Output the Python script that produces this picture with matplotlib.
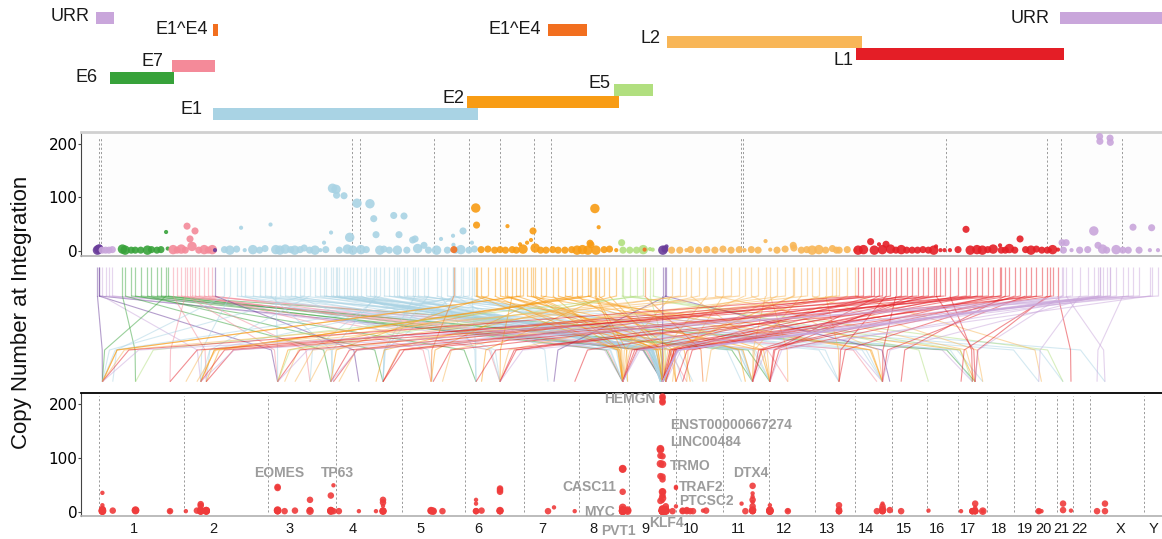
import numpy as np
import matplotlib
matplotlib.use("Agg")
import matplotlib.pyplot as plt
from matplotlib.collections import LineCollection

plt.rcParams['font.family'] = ['Liberation Sans', 'DejaVu Sans']

# ---------------- HPV16 genome annotation (bp) ----------------
gene_names = ['URR', 'E6', 'E7', 'E1^E4', 'E1', 'E2', 'E1^E4', 'E5', 'L2', 'L1', 'URR']
gene_starts = [0, 103, 559, 864, 864, 2745, 3345, 3837, 4225, 5625, 7135]
gene_ends = [132, 575, 881, 904, 2830, 3870, 3634, 4121, 5669, 7164, 7906]

# recurrent HPV breakpoints (dashed guides)
hotspot_bp = [18, 33, 1896, 1956, 2499, 2759, 2988, 3240, 3370, 4777, 4790,
              6288, 7036, 7140, 7594]

# ---------------- human genome (hg38, Mb) ----------------
chrom_names = [str(i) for i in range(1, 23)] + ['X', 'Y']
chrom_len_mb = [248.96, 242.19, 198.30, 190.21, 181.54, 170.81, 159.35, 145.14,
                138.39, 133.80, 135.09, 133.28, 114.36, 107.04, 101.99, 90.34,
                83.26, 80.37, 58.62, 64.44, 46.71, 50.82, 156.04, 57.23]
chrom_label_mb = [101.7, 83, 62.5, 46, 52, 40.8, 53, 41.6, 47.5, 43, 46.3, 43.2,
                  34, 32.6, 36, 31, 29, 37, 31.6, 27, 14.5, 17.8, 86, 27]

# ---------------- integration events ----------------
hpv_bp = [
    10, 20, 25, 45, 70, 95, 120,
    195, 215, 260, 290, 330, 380, 410, 450, 480, 518, 530,
    570, 600, 630, 660, 673, 695, 710, 732, 760, 800, 830, 860, 880,
    950, 990, 1040, 1073, 1100, 1160, 1210, 1250, 1291, 1330,
    1360, 1400, 1440, 1470, 1510, 1540, 1580, 1620, 1660, 1687,
    1700, 1739, 1750, 1776, 1780, 1800, 1835, 1860, 1877, 1900,
    1931, 1960, 2000, 2027, 2055, 2072, 2100, 2130, 2170, 2203,
    2230, 2242, 2279, 2300, 2343, 2361, 2380, 2427, 2460, 2520,
    2553, 2600, 2642, 2645, 2660, 2700, 2716, 2760, 2782, 2800,
    2648,
    2810, 2816, 2850, 2900, 2950, 2990, 3030, 3045, 3080, 3110, 3138, 3160,
    3190, 3219, 3234, 3250, 3290, 3330, 3380, 3420, 3470, 3520, 3560, 3600,
    3640, 3656, 3663, 3692, 3700, 3720, 3760, 3800, 3850,
    3890, 3900, 3950, 4000, 4050, 4060, 4100, 4120,
    4195, 4210, 4222,
    4260, 4320, 4370, 4400, 4460, 4520, 4580, 4640, 4700, 4760,
    4800, 4850, 4900, 4955, 4990, 5040, 5100, 5160, 5165, 5220,
    5260, 5300, 5350, 5400, 5450, 5480, 5500, 5560, 5620,
    5640, 5680, 5733, 5760, 5795, 5820, 5847, 5880, 5920, 5960,
    6000, 6040, 6080, 6120, 6160, 6200, 6217, 6250, 6280, 6320,
    6380, 6439, 6470, 6520, 6560, 6600, 6640, 6691, 6700, 6730,
    6760, 6800, 6839, 6880, 6920, 6960, 7000, 7040, 7060, 7080, 7120,
    7150, 7160, 7180, 7220, 7280, 7340, 7385, 7416, 7428, 7430,
    7450, 7480, 7505, 7507, 7550, 7600, 7640, 7675, 7720, 7800, 7813, 7860,
]
hpv_region = (['other'] * 3 + ['URR'] * 4 + ['E6'] * 11 + ['E7'] * 12 + ['other']
              + ['E1'] * 60 + ['E1^E4'] + ['E2'] * 33 + ['E5'] * 5 + ['E1^E4']
              + ['E5'] * 2 + ['other'] * 3 + ['L2'] * 29 + ['L1'] * 41 + ['URR'] * 22)
human_chrom = [
    1, 3, 9, 2, 8, 17, 14,
    1, 3, 9, 6, 12, 4, 8, 11, 17, 1, 9,
    2, 10, 9, 1, 3, 3, 8, 6, 14, 5, 12, 9, 4,
    1, 2, 9, 6, 17, 8, 10, 13, 3, 3,
    8, 12, 9, 5, 14, 1, 2, 9, 20, 11,
    11, 11, 9, 9, 9, 17, 9, 8, 9, 12,
    9, 6, 9, 9, 9, 3, 3, 21, 10, 9,
    9, 9, 9, 'X', 9, 4, 14, 11, 4, 8,
    6, 13, 11, 4, 7, 2, 9, 1, 6, 9,
    5,
    8, 11, 9, 3, 8, 12, 9, 9, 6, 10, 1, 1,
    14, 9, 8, 9, 17, 5, 8, 11, 14, 3, 9, 2,
    12, 2, 2, 8, 8, 9, 6, 9, 4,
    21, 9, 17, 3, 1, 10, 9, 16,
    9, 14, 7,
    8, 3, 2, 12, 5, 9, 17, 10, 1, 2,
    8, 14, 6, 11, 12, 9, 3, 9, 9, 11,
    3, 17, 9, 13, 8, 4, 4, 10, 20,
    1, 3, 4, 9, 12, 2, 13, 8, 14, 9,
    6, 12, 3, 11, 5, 9, 17, 7, 1, 17,
    10, 6, 8, 9, 2, 4, 11, 9, 3, 15,
    9, 13, 11, 14, 8, 12, 6, 17, 17, 9, 21,
    17, 8, 'X', 9, 20, 3, 9, 14, 9, 9,
    9, 12, 9, 9, 8, 'X', 9, 3, 1, 11, 6, 2,
]
human_mb = [
    11, 27.7, 98, 47, 127.7, 42, 80.8,
    107, 182, 98, 32.8, 2, 134.9, 127.7, 87, 50, 11, 107.5,
    63, 30, 98, 207, 27.7, 121.6, 127.7, 102.3, 64.5, 84, 54, 98, 65,
    41, 47, 98, 102.3, 72, 127.7, 48, 69, 189.6, 27.7,
    127.7, 2, 107.5, 90, 80.8, 11, 63, 98, 12, 55,
    87, 87, 92, 92, 92, 42, 98, 142, 98, 2,
    92, 102.3, 107.5, 98, 98, 182, 121.6, 18, 18, 92,
    98, 98, 98, 42, 92, 134.9, 80.8, 87, 134.9, 127.7,
    32.8, 69, 87, 134.9, 70.6, 47, 98, 11, 32.8, 98,
    84,
    127.7, 87, 98, 182, 127.7, 2, 107.5, 137, 102.3, 40, 11, 11,
    80.8, 98, 127.7, 98, 50, 84, 127.7, 66, 80.8, 27.7, 107.5, 63,
    2, 47, 47, 127.7, 142, 137, 48.8, 98, 114.5,
    18, 98, 42, 27.7, 107, 77, 107.5, 5,
    98, 102, 88,
    127.7, 48, 4, 2, 117, 98, 50, 30, 11, 36,
    127.7, 80.8, 102.3, 87, 54, 127, 121.6, 107.5, 107.5, 87,
    78, 72, 98, 69, 127.7, 7, 134.9, 86, 20,
    11, 182, 134.9, 98, 2, 47, 69, 127.7, 80.8, 107.5,
    102.3, 2, 27.7, 87, 90, 98, 50, 148, 207, 42,
    18, 102.3, 127.7, 107.5, 63, 134.9, 87, 137, 189.6, 27.7,
    98, 69, 87, 80.8, 127.7, 2, 32.8, 50, 9, 98, 41,
    50, 127.7, 42, 98, 12, 182, 98, 80.8, 98, 98,
    107.5, 2, 98, 98, 127.7, 19, 98, 27.7, 11, 87, 102.3, 47,
]
copy_number = [
    1, 3, 5, 1, 1, 1, 2,
    3, 1, 1, 1, 1, 1, 2, 1, 2, 35, 4,
    2, 1, 3, 1, 46, 22, 8, 37, 1, 2, 1, 2, 1,
    2, 1, 3, 43, 1, 2, 1, 4, 49, 2,
    1, 3, 2, 1, 2, 5, 1, 1, 1, 15,
    2, 34, 117, 115, 104, 1, 103, 3, 25, 1,
    89, 2, 2, 88, 60, 30, 1, 3, 1, 66,
    1, 30, 65, 1, 20, 22, 4, 10, 1, 1,
    22, 1, 28, 11, 1, 2, 37, 1, 15, 3,
    2,
    80, 48, 2, 3, 1, 2, 1, 46, 2, 1, 12, 3,
    15, 20, 37, 5, 1, 1, 2, 1, 1, 2, 1, 2,
    1, 14, 11, 79, 1, 44, 2, 3, 1,
    15, 1, 1, 1, 2, 2, 3, 2,
    1, 3, 8,
    1, 1, 1, 2, 1, 2, 1, 3, 1, 2,
    1, 2, 1, 18, 2, 1, 3, 10, 5, 1,
    2, 1, 2, 1, 4, 1, 1, 2, 1,
    1, 2, 17, 1, 12, 2, 12, 3, 1, 2,
    1, 1, 1, 2, 1, 1, 8, 1, 1, 1,
    2, 40, 1, 2, 1, 2, 3, 10, 1, 1,
    4, 1, 22, 2, 1, 3, 1, 1, 1, 2, 2,
    15, 1, 15, 1, 1, 2, 37, 10, 214, 205,
    3, 1, 211, 203, 2, 1, 1, 44, 1, 1, 43, 1,
]
read_support = [
    3, 3, 2, 2, 2, 2, 2,
    3, 3, 2, 2, 2, 3, 2, 2, 2, 1, 1,
    3, 2, 3, 2, 2, 2, 3, 2, 2, 3, 2, 3, 1,
    2, 3, 2, 1, 1, 3, 2, 2, 1, 3,
    3, 3, 2, 3, 2, 2, 2, 3, 1, 1,
    2, 1, 3, 3, 2, 2, 2, 3, 3, 3,
    3, 3, 2, 3, 2, 2, 3, 2, 2, 2,
    3, 2, 2, 2, 2, 2, 3, 2, 2, 3,
    1, 2, 1, 1, 2, 3, 2, 2, 1, 2,
    2,
    3, 2, 2, 2, 2, 2, 2, 1, 2, 2, 1, 3,
    1, 1, 2, 3, 2, 2, 2, 2, 2, 2, 3, 3,
    3, 2, 2, 3, 3, 1, 2, 2, 1,
    2, 2, 2, 2, 3, 1, 1, 1,
    3, 2, 1,
    2, 2, 1, 2, 2, 2, 2, 2, 2, 2,
    1, 2, 2, 1, 1, 2, 2, 2, 2, 2,
    2, 3, 3, 2, 2, 2, 2, 2, 1,
    3, 3, 2, 3, 1, 3, 2, 3, 2, 3,
    2, 2, 2, 2, 2, 3, 1, 1, 1, 1,
    2, 2, 3, 3, 3, 2, 3, 1, 2, 2,
    3, 2, 2, 2, 3, 2, 2, 2, 1, 3, 1,
    2, 2, 2, 1, 2, 2, 3, 2, 2, 2,
    3, 2, 2, 2, 3, 2, 2, 2, 2, 1, 2, 1,
]

# genes highlighted on the human genome panel
gene_labels = ['EOMES', 'TP63', 'CASC11', 'MYC', 'PVT1', 'HEMGN', 'ENST00000667274',
               'LINC00484', 'TRMO', 'TRAF2', 'PTCSC2', 'KLF4', 'DTX4']

# ---------------- styling / layout ----------------
region_colors = {'URR': '#c9a6db', 'E6': '#37a23a', 'E7': '#f48a99', 'E1^E4': '#f26f1f',
                 'E1': '#a9d3e4', 'E2': '#f89c14', 'E5': '#b1df7f', 'L2': '#f8b657',
                 'L1': '#e41e26', 'other': '#6a3d9a'}
gene_rows = [0, 5, 4, 1, 8, 7, 1, 6, 2, 3, 0]
gene_label_offsets = [(-6, 1), (-12, 0), (-8, 4), (-5, 0), (-10, 4), (-2, 3),
                      (-7, 0), (-4, 6), (-6, 3), (-3, -7), (-10, -1)]
# (x in cumulative Mb, y in copy number, horizontal alignment)
gene_label_layout = [(523, 72, 'center'), (691, 72, 'center'), (1423, 46, 'center'),
                     (1452, 0, 'center'), (1506, -35, 'center'), (1539, 209, 'center'),
                     (1656, 161, 'left'), (1656, 130, 'left'), (1656, 85, 'left'),
                     (1682, 46, 'left'), (1682, 20, 'left'), (1645, -21, 'center'),
                     (1891, 72, 'center')]
size_mid = {1: 9, 2: 26, 3: 46}
size_bot = {1: 10, 2: 22, 3: 30}
dash = (0, (2.2, 2.2))

W, H = 1162, 539
fig = plt.figure(figsize=(W / 100, H / 100), dpi=100)


def px_axes(x0, y0, x1, y1):
    return fig.add_axes([x0 / W, 1 - y1 / H, (x1 - x0) / W, (y1 - y0) / H])


hpv_xlim = (-111.8, 7889.7)
chr_xlim = (-51, 3082.3)

chrom_starts = np.concatenate([[0], np.cumsum(chrom_len_mb)[:-1]])
chrom_index = {c: i for i, c in enumerate(chrom_names)}
human_cum = np.array([chrom_starts[chrom_index[str(c)]] + m
                      for c, m in zip(human_chrom, human_mb)])
hpv_arr = np.array(hpv_bp, dtype=float)
cn_arr = np.array(copy_number, dtype=float)
ev_colors = [region_colors[r] for r in hpv_region]

# ---------------- gene track ----------------
ax_gene = px_axes(81, 0, 1162, 125)
ax_gene.set_facecolor('#fbfbfb')
row_y = [17.85 + 12 * r for r in gene_rows]
ax_gene.barh(row_y, np.array(gene_ends) - np.array(gene_starts), left=gene_starts,
             height=11.7, color=[region_colors[g] for g in gene_names], linewidth=0)
for name, start, y, (dx, dy) in zip(gene_names, gene_starts, row_y, gene_label_offsets):
    ax_gene.annotate(name, (start, y), xytext=(dx, dy), textcoords='offset pixels',
                     ha='right', va='center', fontsize=13, color='#1a1a1a',
                     annotation_clip=False)
ax_gene.set_xlim(*hpv_xlim)
ax_gene.set_ylim(125, 0)
ax_gene.axis('off')
ax_gene.patch.set_visible(True)

# ---------------- copy number vs HPV position ----------------
ax_cn = px_axes(81, 131.7, 1162, 255.7)
ax_cn.set_facecolor('#fdfdfd')
ax_cn.vlines(hotspot_bp, -2, 211, colors='#9a9a9a', linestyles=dash, linewidth=0.7, zorder=1)
ax_cn.scatter(hpv_arr, cn_arr, s=[size_mid[v] for v in read_support], c=ev_colors,
              alpha=0.9, linewidths=0, zorder=3)
ax_cn.set_xlim(*hpv_xlim)
ax_cn.set_ylim(-9.4, 223)

# ---------------- copy number vs human position ----------------
ax_chr = px_axes(81, 392.7, 1162, 516)
ax_chr.vlines(chrom_starts, -1, 214, colors='#9a9a9a', linestyles=dash, linewidth=0.7, zorder=1)
ax_chr.scatter(human_cum, cn_arr, s=[size_bot[v] for v in read_support], color='#ef3b3b',
               alpha=0.9, linewidths=0, zorder=3)
ax_chr.set_xlim(*chr_xlim)
ax_chr.set_ylim(-8, 221)
ax_chr.set_xticks(chrom_starts + np.array(chrom_label_mb))
ax_chr.set_xticklabels(chrom_names, fontsize=10.5, color='#1a1a1a')
ax_chr.tick_params(axis='x', length=0, pad=4)
for name, (lx, ly, ha) in zip(gene_labels, gene_label_layout):
    ax_chr.text(lx, ly, name, ha=ha, va='center', fontsize=10, fontweight='bold',
                color='#9c9c9c', clip_on=False, zorder=4)

for ax in (ax_cn, ax_chr):
    ax.set_yticks([0, 100, 200])
    ax.set_yticklabels(['0', '100', '200'], fontsize=11, family='DejaVu Sans')
    ax.tick_params(axis='y', length=2.2, width=0.8, pad=0.5, color='#444444')
    ax.spines['right'].set_visible(False)
    ax.spines['left'].set_color('#444444')
    ax.spines['left'].set_linewidth(0.8)
    ax.spines['bottom'].set_color('#b0b0b0')
    ax.spines['bottom'].set_linewidth(1.2)
ax_cn.set_xticks([])
ax_cn.spines['top'].set_color('#d0d0d0')
ax_cn.spines['top'].set_linewidth(2)
ax_chr.spines['top'].set_color('#000000')
ax_chr.spines['top'].set_linewidth(1.3)

# ---------------- links between the two genomes ----------------
ax_link = px_axes(81, 261, 1162, 387)
ax_link.set_facecolor('#fcfcfc')
ax_link.set_xlim(0, 1)
ax_link.set_ylim(126, 0)
ax_link.axis('off')
ax_link.patch.set_visible(True)


def to_link_x(ax, xs):
    pts = ax.transData.transform(np.column_stack([xs, np.zeros(len(xs))]))
    return ax_link.transAxes.inverted().transform(pts)[:, 0]


gx = to_link_x(ax_cn, hpv_arr)
hx = to_link_x(ax_chr, human_cum)
kx = hx + 0.035 * (gx - hx)
ticks = [[(g, 6), (g, 35)] for g in gx]
paths = [[(g, 35), (k, 89), (h, 120.7)] for g, k, h in zip(gx, kx, hx)]
ax_link.add_collection(LineCollection(ticks, colors=ev_colors, linewidths=0.9, alpha=0.45))
ax_link.add_collection(LineCollection(paths, colors=ev_colors, linewidths=0.8, alpha=0.5))

fig.text(22 / W, 1 - 312 / H, 'Copy Number at Integration', rotation=90, fontsize=16,
         ha='center', va='center', color='#111111')

fig.savefig('out.png', dpi=100)
